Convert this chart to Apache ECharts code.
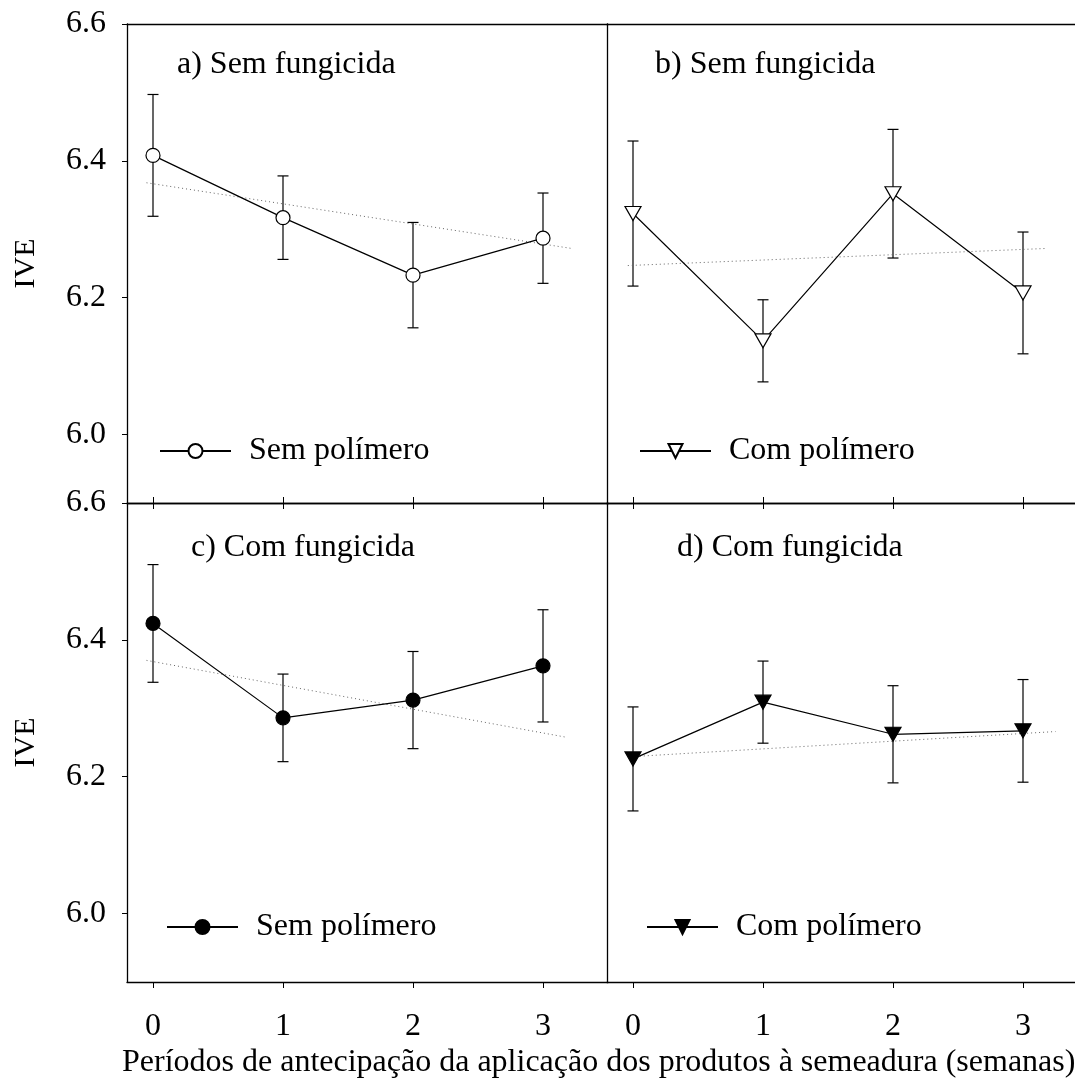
<!DOCTYPE html>
<html>
<head>
<meta charset="utf-8">
<script src="https://cdn.jsdelivr.net/npm/echarts@6/dist/echarts.min.js"></script>
<style>
  html, body { margin: 0; padding: 0; background: #fff; }
  #chart { width: 1075px; height: 1084px; }
</style>
</head>
<body>
<div id="chart"></div>
<script>
// semanas de antecipação
var weeks = [0, 1, 2, 3];
var xTicks = [0, 1, 2, 3];
var yTicks = [6.0, 6.2, 6.4, 6.6];

// a) sem fungicida, sem polímero
var aMean = [6.408, 6.317, 6.233, 6.287];
var aErr = [0.089, 0.061, 0.077, 0.066];
var aTrend = [[-0.05, 6.368], [3.22, 6.272]];
// b) sem fungicida, com polímero
var bMean = [6.323, 6.137, 6.352, 6.207];
var bErr = [0.106, 0.060, 0.094, 0.089];
var bTrend = [[-0.04, 6.247], [3.18, 6.272]];
// c) com fungicida, sem polímero
var cMean = [6.424, 6.286, 6.312, 6.362];
var cErr = [0.086, 0.064, 0.071, 0.082];
var cTrend = [[-0.05, 6.370], [3.17, 6.258]];
// d) com fungicida, com polímero
var dMean = [6.226, 6.309, 6.262, 6.267];
var dErr = [0.076, 0.060, 0.071, 0.075];
var dTrend = [[-0.04, 6.229], [3.25, 6.266]];

var panelTitles = ['a) Sem fungicida', 'b) Sem fungicida', 'c) Com fungicida', 'd) Com fungicida'];
var legendNames = { a: 'Sem polímero', b: 'Com polímero', c: 'Sem polímero', d: 'Com polímero' };

var FONT = '"Liberation Serif", "Times New Roman", serif';
var myChart = echarts.init(document.getElementById('chart'));

function pairs(means) {
  return weeks.map(function (w, i) { return [w, means[i]]; });
}

function errorBars(means, errs, idx) {
  return {
    type: 'custom',
    xAxisIndex: idx,
    yAxisIndex: idx,
    z: 1,
    silent: true,
    data: weeks.map(function (w, i) { return [w, means[i] - errs[i], means[i] + errs[i]]; }),
    renderItem: function (params, api) {
      var lo = api.coord([api.value(0), api.value(1)]);
      var hi = api.coord([api.value(0), api.value(2)]);
      var hw = 5.5;
      var st = { stroke: '#000', lineWidth: 1.2 };
      return {
        type: 'group',
        children: [
          { type: 'line', shape: { x1: lo[0], y1: lo[1], x2: hi[0], y2: hi[1] }, style: st },
          { type: 'line', shape: { x1: lo[0] - hw, y1: lo[1], x2: lo[0] + hw, y2: lo[1] }, style: st },
          { type: 'line', shape: { x1: hi[0] - hw, y1: hi[1], x2: hi[0] + hw, y2: hi[1] }, style: st }
        ]
      };
    }
  };
}

function trend(data, idx) {
  return {
    type: 'line',
    xAxisIndex: idx,
    yAxisIndex: idx,
    data: data,
    showSymbol: false,
    silent: true,
    z: 1,
    lineStyle: { color: '#666', width: 1, type: [1, 3] }
  };
}

function meanLine(name, means, idx, symbol, fill, rotate) {
  return {
    name: name,
    type: 'line',
    xAxisIndex: idx,
    yAxisIndex: idx,
    data: pairs(means),
    symbol: symbol,
    symbolSize: symbol === 'circle' ? 14 : [16, 14],
    symbolRotate: rotate,
    z: 3,
    lineStyle: { color: '#000', width: 1.2 },
    itemStyle: { color: fill, borderColor: '#000', borderWidth: 1.2 }
  };
}

// bottom x axes of each panel
function bottomAxis(idx, max, showLabels) {
  return {
    type: 'value', gridIndex: idx, position: 'bottom',
    min: -0.2, max: max,
    axisLine: { show: true, lineStyle: { color: '#000', width: 1.3 } },
    axisTick: { show: true, customValues: xTicks, length: 6, lineStyle: { color: '#000', width: 1 } },
    axisLabel: {
      show: showLabels, customValues: xTicks, margin: 29,
      fontFamily: FONT, fontSize: 32, color: '#000'
    },
    splitLine: { show: false }
  };
}

function topAxis(idx, max, ticks) {
  return {
    type: 'value', gridIndex: idx, position: 'top',
    min: -0.2, max: max,
    axisLine: { show: true, onZero: false, lineStyle: { color: '#000', width: 1.3 } },
    axisTick: { show: ticks, customValues: xTicks, length: 6, lineStyle: { color: '#000', width: 1 } },
    axisLabel: { show: false },
    splitLine: { show: false }
  };
}

function leftAxis(idx, labels) {
  return {
    type: 'value', gridIndex: idx,
    min: 5.9, max: 6.6,
    name: labels ? 'IVE' : '',
    nameLocation: 'middle',
    nameRotate: 90,
    nameGap: 86,
    nameTextStyle: { fontFamily: FONT, fontSize: 30, color: '#000' },
    axisLine: { show: true, onZero: false, lineStyle: { color: '#000', width: 1.3 } },
    axisTick: { show: labels, customValues: yTicks, length: 5, lineStyle: { color: '#000', width: 1 } },
    axisLabel: {
      show: labels, customValues: yTicks, margin: 21,
      fontFamily: FONT, fontSize: 32, color: '#000',
      formatter: function (v) { return v.toFixed(1); }
    },
    splitLine: { show: false }
  };
}

function legendAt(key, left, top) {
  return {
    data: [key],
    left: left,
    top: top,
    orient: 'horizontal',
    padding: 0,
    itemWidth: 71,
    itemHeight: 17.5,
    selectedMode: false,
    formatter: function (n) { return legendNames[n]; },
    textStyle: { fontFamily: FONT, fontSize: 32, color: '#000', padding: [0, 0, 0, 13] }
  };
}

function titleText(txt, x, y) {
  return {
    type: 'text', left: x, top: y - 14,
    style: { text: txt, font: '32px ' + FONT, fill: '#000' }
  };
}

var option = {
  animation: false,
  backgroundColor: '#fff',
  grid: [
    { left: 127, top: 24, width: 481, height: 479 },
    { left: 607, top: 24, width: 468, height: 479 },
    { left: 127, top: 503, width: 481, height: 479 },
    { left: 607, top: 503, width: 468, height: 479 }
  ],
  xAxis: [
    bottomAxis(0, 3.5, false),
    bottomAxis(1, 3.4, false),
    bottomAxis(2, 3.5, true),
    bottomAxis(3, 3.4, true),
    topAxis(0, 3.5, false),
    topAxis(1, 3.4, false),
    topAxis(2, 3.5, true),
    topAxis(3, 3.4, true)
  ],
  yAxis: [
    leftAxis(0, true),
    leftAxis(1, false),
    leftAxis(2, true),
    leftAxis(3, false)
  ],
  legend: [
    legendAt('a', 159, 435),
    legendAt('b', 639, 435),
    legendAt('c', 166, 911),
    legendAt('d', 646, 911)
  ],
  graphic: [
    titleText(panelTitles[0], 177, 63),
    titleText(panelTitles[1], 655, 63),
    titleText(panelTitles[2], 191, 546),
    titleText(panelTitles[3], 677, 546),
    {
      type: 'text', left: 122, top: 1047,
      style: {
        text: 'Períodos de antecipação da aplicação dos produtos à semeadura (semanas)',
        font: '32px ' + FONT, fill: '#000'
      }
    }
  ],
  series: [
    trend(aTrend, 0), errorBars(aMean, aErr, 0), meanLine('a', aMean, 0, 'circle', '#fff', 0),
    trend(bTrend, 1), errorBars(bMean, bErr, 1), meanLine('b', bMean, 1, 'triangle', '#fff', 180),
    trend(cTrend, 2), errorBars(cMean, cErr, 2), meanLine('c', cMean, 2, 'circle', '#000', 0),
    trend(dTrend, 3), errorBars(dMean, dErr, 3), meanLine('d', dMean, 3, 'triangle', '#000', 180)
  ]
};

myChart.setOption(option);
</script>
</body>
</html>
